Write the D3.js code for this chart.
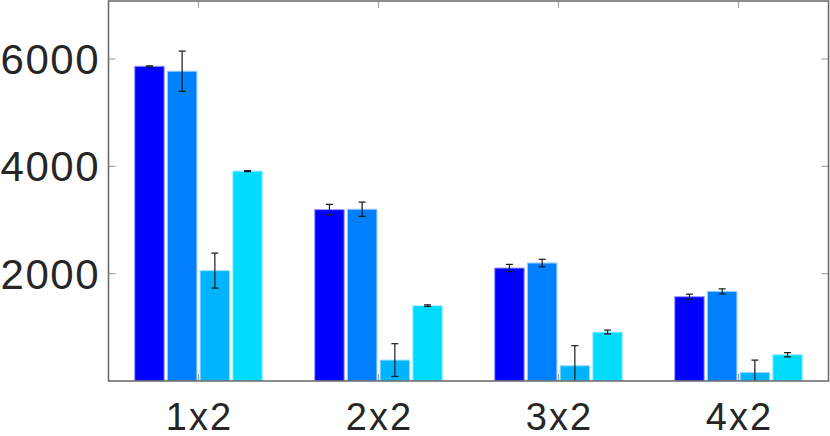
<!DOCTYPE html>
<html><head><meta charset="utf-8">
<script src="https://cdn.jsdelivr.net/npm/d3@7"></script>
<style>body{margin:0;background:#fff}svg{display:block}</style>
</head><body>
<svg id="c" width="830" height="436"></svg>
<script>
const categories = ["1x2", "2x2", "3x2", "4x2"];
const seriesNames = ["s1", "s2", "s3", "s4"];
const values = [
  [5864, 5771, 2056, 3912],
  [3193, 3200, 390, 1404],
  [2105, 2198, 285, 912],
  [1571, 1670, 160, 490]
];
const errors = [
  [10, 375, 326, 10],
  [96, 133, 305, 15],
  [68, 70, 373, 37],
  [47, 47, 230, 40]
];
const yTicks = [2000, 4000, 6000];
const colors = ["#0000ff", "#0080ff", "#00b4ff", "#00dcff"];
const edgeColors = ["#9a9aff", "#9acbff", "#9ae0ff", "#a8f0ff"];

const svg = d3.select("#c");
const L = 108.5, R = 828.5, T = 1, B = 381;
const x = d3.scaleLinear().domain([0.5, 4.5]).range([L, R]);
const y = d3.scaleLinear().domain([0, 7080]).range([B, T]);
const barW = 29.5, step = 32.7;

svg.append("defs").append("clipPath").attr("id", "clip")
  .append("rect").attr("x", L).attr("y", T).attr("width", R - L).attr("height", B - T);

const g = svg.append("g").attr("clip-path", "url(#clip)");
categories.forEach((c, i) => {
  values[i].forEach((v, j) => {
    const cx = x(i + 1) + (j - 1.5) * step;
    g.append("rect")
      .attr("x", cx - barW / 2).attr("y", y(v))
      .attr("width", barW).attr("height", y(0) - y(v))
      .attr("fill", colors[j]).attr("stroke", edgeColors[j]).attr("stroke-width", 1);
  });
});
categories.forEach((c, i) => {
  values[i].forEach((v, j) => {
    const cx = x(i + 1) + (j - 1.5) * step;
    const e = errors[i][j];
    const eg = g.append("g").attr("stroke", "#1a1a1a").attr("stroke-width", 1.2);
    eg.append("line").attr("x1", cx).attr("x2", cx).attr("y1", y(v - e)).attr("y2", y(v + e));
    eg.append("line").attr("x1", cx - 3.5).attr("x2", cx + 3.5).attr("y1", y(v + e)).attr("y2", y(v + e));
    eg.append("line").attr("x1", cx - 3.5).attr("x2", cx + 3.5).attr("y1", y(v - e)).attr("y2", y(v - e));
  });
});

// ticks
const tk = svg.append("g").attr("stroke", "#a6a6a6").attr("stroke-width", 1.2);
yTicks.forEach(t => {
  tk.append("line").attr("x1", L).attr("x2", L + 7).attr("y1", y(t)).attr("y2", y(t));
  tk.append("line").attr("x1", R - 7).attr("x2", R).attr("y1", y(t)).attr("y2", y(t));
});
categories.forEach((c, i) => {
  tk.append("line").attr("x1", x(i + 1)).attr("x2", x(i + 1)).attr("y1", B).attr("y2", B - 7);
  tk.append("line").attr("x1", x(i + 1)).attr("x2", x(i + 1)).attr("y1", T).attr("y2", T + 7);
});

// box
svg.append("rect").attr("x", L).attr("y", T).attr("width", R - L).attr("height", B - T)
  .attr("fill", "none").attr("stroke", "#666").attr("stroke-width", 1.5);

// labels
const font = "'Liberation Sans', Arial, sans-serif";
svg.append("g").selectAll("text").data(yTicks).join("text")
  .attr("x", 100).attr("y", d => y(d) + 15)
  .attr("text-anchor", "end").attr("font-family", font).attr("font-size", 42)
  .attr("letter-spacing", 1.5)
  .attr("fill", "#262626").text(d => d);
svg.append("g").selectAll("text").data(categories).join("text")
  .attr("x", (d, i) => x(i + 1) + 1).attr("y", 430)
  .attr("text-anchor", "middle").attr("font-family", font).attr("font-size", 38)
  .attr("letter-spacing", 2)
  .attr("fill", "#262626").text(d => d);
</script>
</body></html>
